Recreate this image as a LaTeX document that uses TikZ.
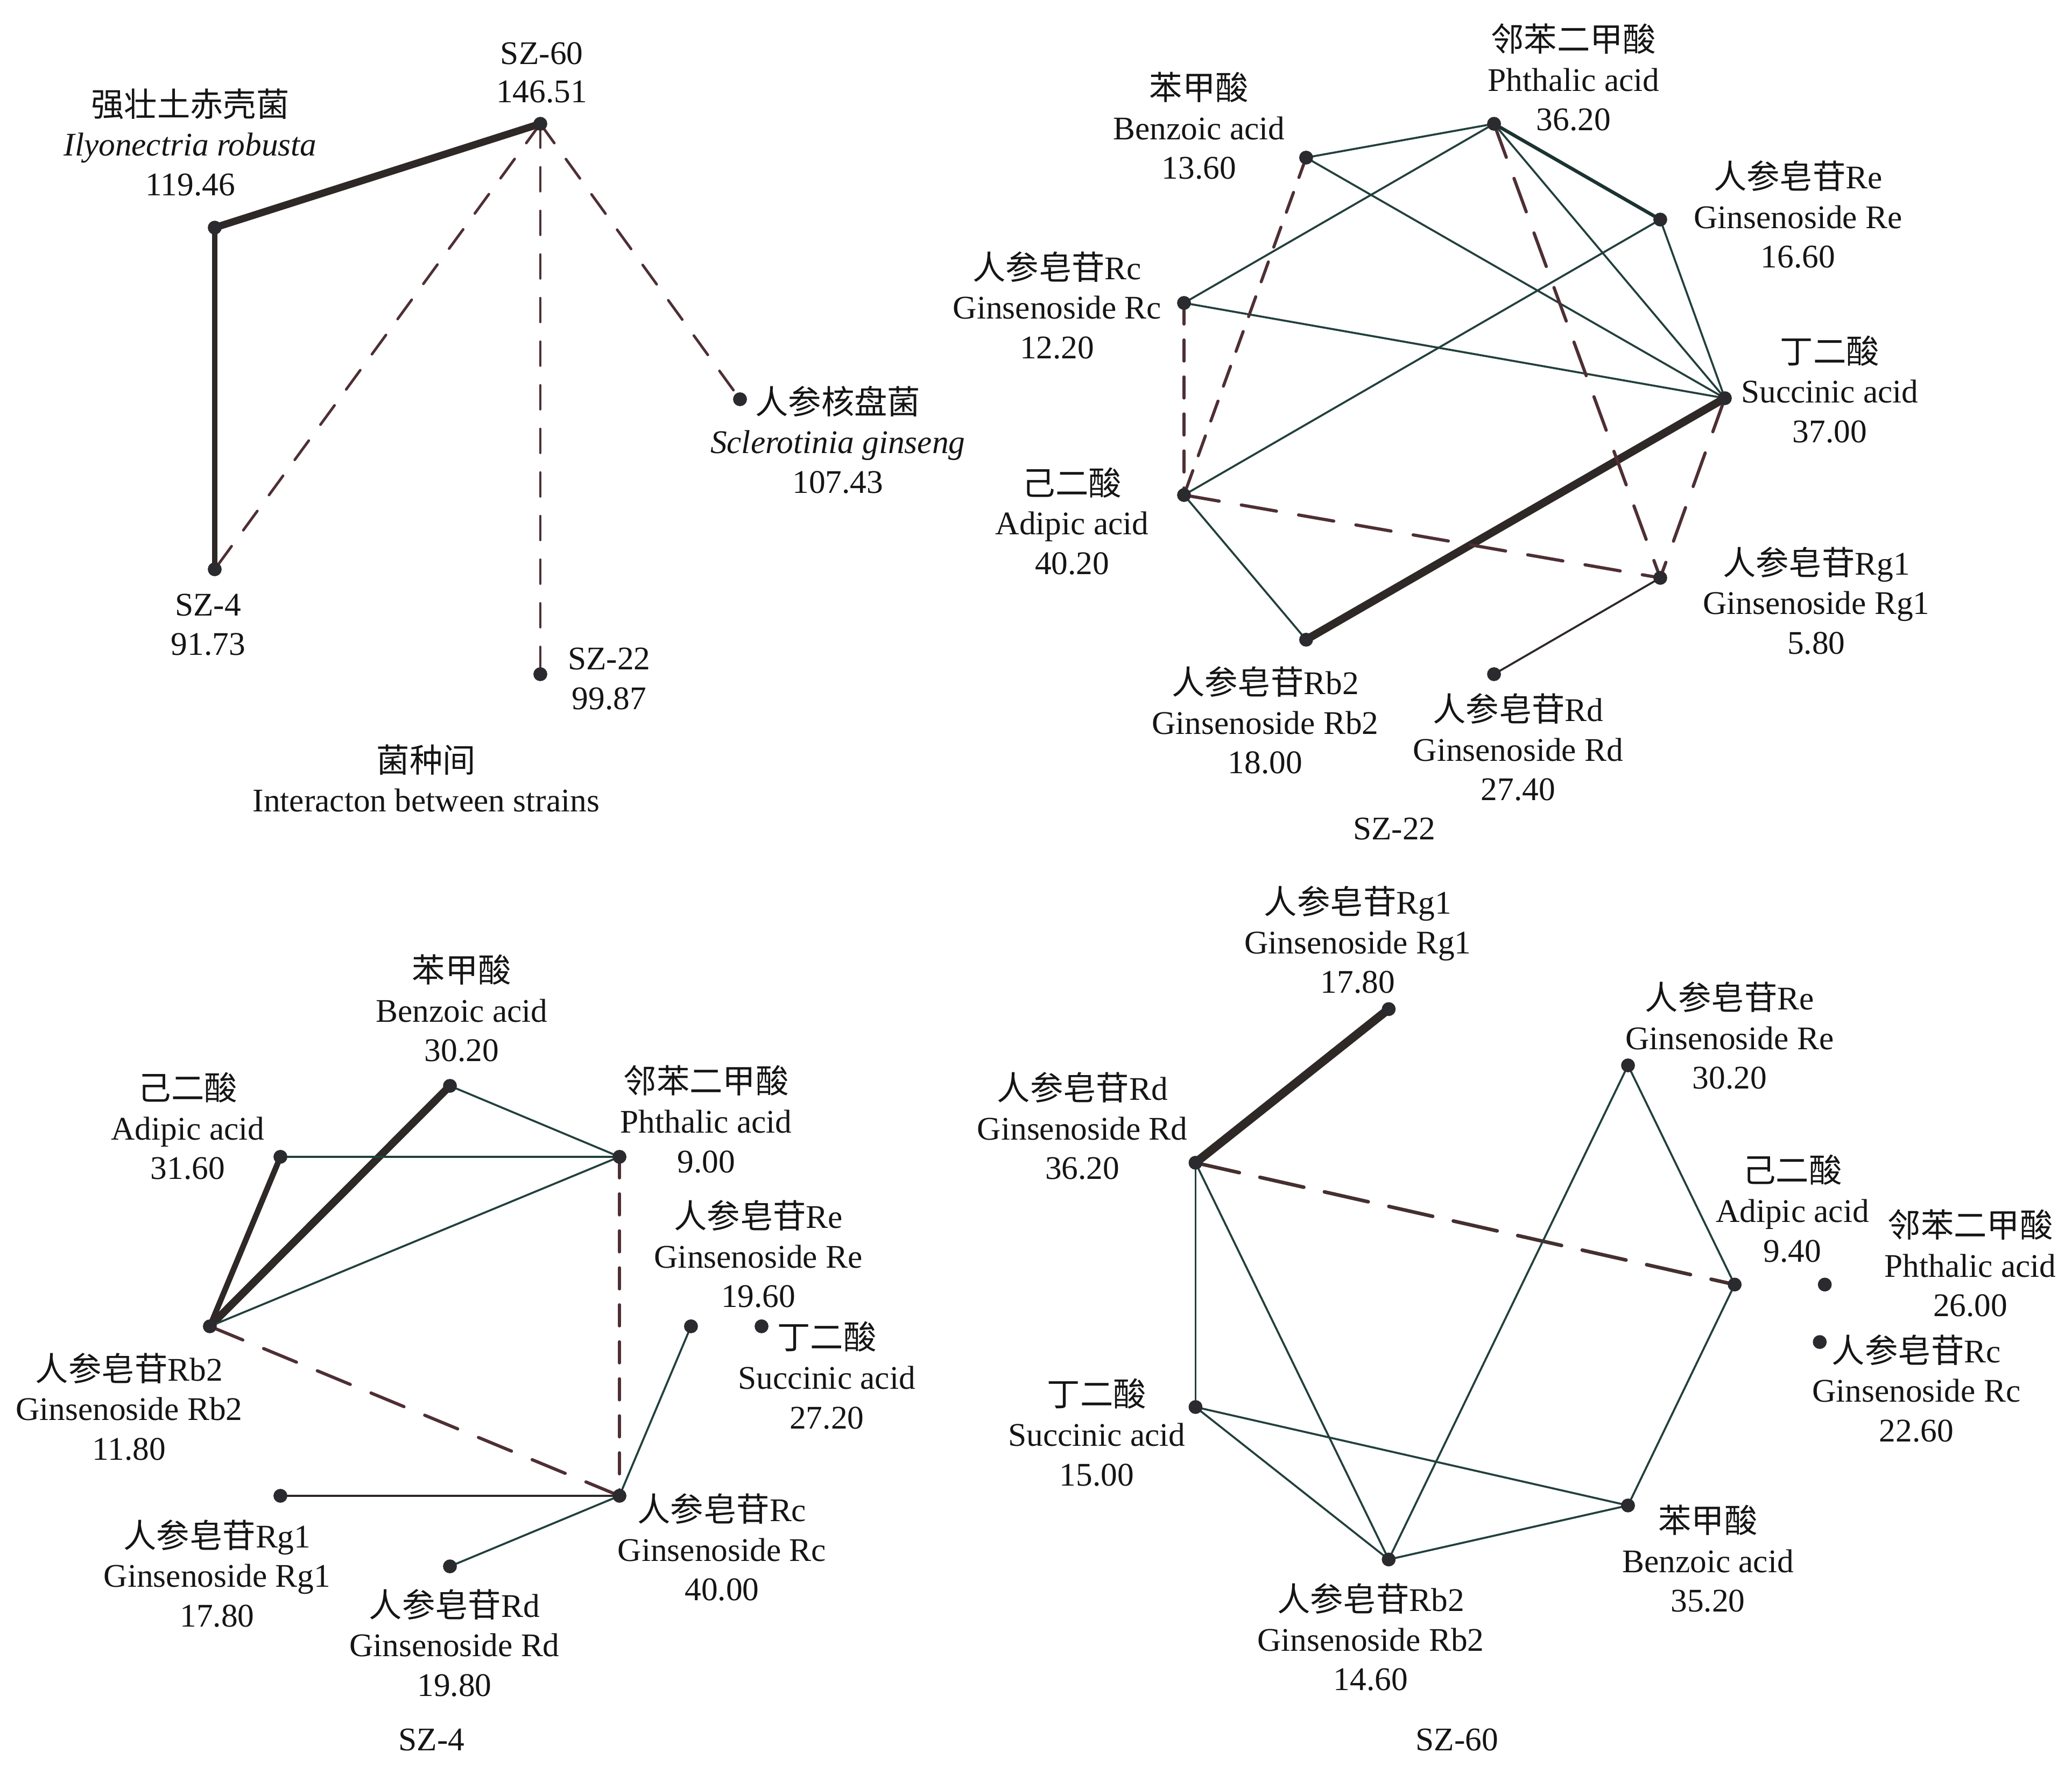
\documentclass[tikz,border=0pt]{standalone}
\usepackage{fontspec}
\setmainfont{Liberation Serif}
\newfontfamily\cjk{Noto Sans CJK SC}
\newcommand{\zh}[1]{{\cjk #1}}
\definecolor{tealc}{HTML}{22403D}
\definecolor{darkc}{HTML}{2E2826}
\definecolor{maroonc}{HTML}{4E2F34}
\definecolor{brownc}{HTML}{45302F}
\definecolor{dotc}{HTML}{2B2A2E}
\definecolor{txtc}{HTML}{151515}
\pgfdeclarelayer{bgl}
\pgfdeclarelayer{edges}
\pgfsetlayers{bgl,edges,main}
\newcommand{\oneline}[4]{\node[lbl] (#1) at (#2,#3+9) {#4};}
\newcommand{\labthree}[6]{%
  \node[lbl] (#1a) at (#2,#3+9) {#4};
  \node[lbl] (#1b) at (#2,#3+39) {#5};
  \node[lbl] (#1c) at (#2,#3+69) {#6};}
\begin{document}
\begin{tikzpicture}[x=1pt,y=-1pt,
  lbl/.style={anchor=base,inner sep=0pt,text=txtc,font=\fontsize{25}{30}\selectfont},
  dotn/.style={circle,fill=dotc,inner sep=0pt,minimum size=10.5pt},
  tline/.style={draw=tealc,line width=1.5pt},
  mline/.style={draw=tealc!80!black,line width=2.6pt,line cap=round},
  bline/.style={draw=darkc,line width=5.5pt,line cap=round},
  dline/.style={draw=maroonc,line width=2pt,line cap=round,dash pattern=on 18pt off 15pt},
  dlines/.style={draw=maroonc,line width=2.3pt,line cap=round,dash pattern=on 16pt off 12pt},
  dlinem/.style={draw=maroonc,line width=2.4pt,line cap=round,dash pattern=on 27pt off 17pt},
  dlineb/.style={draw=brownc,line width=2.7pt,line cap=round,dash pattern=on 34pt off 16pt}]
\begin{pgfonlayer}{bgl}
\fill[white] (0,0) rectangle (1568,1348);
\end{pgfonlayer}
\useasboundingbox (0,0) rectangle (1568,1348);

% ---------------- Panel 1: strains ----------------
\node[dotn] (s60) at (408.9,93.7) {};
\node[dotn] (ilyo) at (162.5,172.3) {};
\node[dotn] (s4) at (162.5,430.9) {};
\node[dotn] (s22) at (408.9,510.3) {};
\node[dotn] (scl) at (560,302.2) {};
\oneline{t60a}{410}{39.5}{SZ-60}
\oneline{t60b}{410}{68.6}{146.51}
\labthree{tily}{144}{79}{\zh{强壮土赤壳菌}}{\textit{Ilyonectria robusta}}{119.46}
\oneline{t4a}{157.5}{457.1}{SZ-4}
\oneline{t4b}{157.5}{487}{91.73}
\oneline{t22a}{461}{497.8}{SZ-22}
\oneline{t22b}{461}{527.8}{99.87}
\labthree{tscl}{634}{304.2}{\zh{人参核盘菌}}{\textit{Sclerotinia ginseng}}{107.43}
\oneline{tti1}{322.5}{575.6}{\zh{菌种间}}
\oneline{tti2}{322.5}{605.5}{Interacton between strains}
\begin{pgfonlayer}{edges}
\draw[bline] (s60.center) -- (ilyo.center);
\draw[bline,line width=4.3pt] (ilyo.center) -- (s4.center);
\draw[dline] (s60.center) -- (s4.center);
\draw[dline] (s60.center) -- (s22.center);
\draw[dline] (s60.center) -- (scl.center);
\end{pgfonlayer}

% ---------------- Panel 2: SZ-22 ----------------
\node[dotn] (bPh) at (1130.6,93.7) {};
\node[dotn] (bBz) at (988.4,119.3) {};
\node[dotn] (bRe) at (1256.4,166.2) {};
\node[dotn] (bRc) at (896,229.3) {};
\node[dotn] (bSu) at (1305.3,301.4) {};
\node[dotn] (bAd) at (896,374.7) {};
\node[dotn] (bRg) at (1256.4,437.4) {};
\node[dotn] (bRb) at (988.4,484.2) {};
\node[dotn] (bRd) at (1130.6,510.3) {};
\labthree{lbBz}{907.4}{66.5}{\zh{苯甲酸}}{Benzoic acid}{13.60}
\labthree{lbPh}{1190.8}{29.9}{\zh{邻苯二甲酸}}{Phthalic acid}{36.20}
\labthree{lbRe}{1360.7}{133.8}{\zh{人参皂苷}Re}{Ginsenoside Re}{16.60}
\labthree{lbRc}{800}{202.4}{\zh{人参皂苷}Rc}{Ginsenoside Rc}{12.20}
\labthree{lbSu}{1384.7}{266}{\zh{丁二酸}}{Succinic acid}{37.00}
\labthree{lbAd}{811.3}{365.7}{\zh{己二酸}}{Adipic acid}{40.20}
\labthree{lbRg}{1374.5}{426}{\zh{人参皂苷}Rg1}{Ginsenoside Rg1}{5.80}
\labthree{lbRb}{957.5}{516.6}{\zh{人参皂苷}Rb2}{Ginsenoside Rb2}{18.00}
\labthree{lbRd}{1148.9}{536.9}{\zh{人参皂苷}Rd}{Ginsenoside Rd}{27.40}
\oneline{lbT}{1055.2}{626.7}{SZ-22}
\begin{pgfonlayer}{edges}
\draw[tline] (bBz.center) -- (bPh.center);
\draw[tline] (bBz.center) -- (bSu.center);
\draw[tline] (bPh.center) -- (bRc.center);
\draw[tline] (bPh.center) -- (bSu.center);
\draw[tline] (bRe.center) -- (bSu.center);
\draw[tline] (bRe.center) -- (bAd.center);
\draw[tline] (bRc.center) -- (bSu.center);
\draw[tline] (bAd.center) -- (bRb.center);
\draw[tline,draw=darkc] (bRg.center) -- (bRd.center);
\draw[mline] (bPh.center) -- (bRe.center);
\draw[bline,line width=6pt] (bRb.center) -- (bSu.center);
\draw[dlines] (bBz.center) -- (bAd.center);
\draw[dlines] (bRc.center) -- (bAd.center);
\draw[dlinem] (bPh.center) -- (bRg.center);
\draw[dlinem] (bSu.center) -- (bRg.center);
\draw[dlinem] (bAd.center) -- (bRg.center);
\end{pgfonlayer}

% ---------------- Panel 3: SZ-4 ----------------
\node[dotn] (cBz) at (340.5,821.9) {};
\node[dotn] (cAd) at (212.2,875.6) {};
\node[dotn] (cPh) at (468.8,875.6) {};
\node[dotn] (cRb) at (158.8,1003.9) {};
\node[dotn] (cRe) at (522.9,1003.9) {};
\node[dotn] (cSu) at (576.3,1003.9) {};
\node[dotn] (cRc) at (468.8,1132.2) {};
\node[dotn] (cRg) at (212.2,1132.2) {};
\node[dotn] (cRd) at (340.5,1185.6) {};
\labthree{lcBz}{349.4}{734.5}{\zh{苯甲酸}}{Benzoic acid}{30.20}
\labthree{lcAd}{142.1}{823.7}{\zh{己二酸}}{Adipic acid}{31.60}
\labthree{lcPh}{534.4}{818.5}{\zh{邻苯二甲酸}}{Phthalic acid}{9.00}
\labthree{lcRe}{573.9}{920.6}{\zh{人参皂苷}Re}{Ginsenoside Re}{19.60}
\labthree{lcSu}{625.7}{1012.4}{\zh{丁二酸}}{Succinic acid}{27.20}
\labthree{lcRb}{97.7}{1036.1}{\zh{人参皂苷}Rb2}{Ginsenoside Rb2}{11.80}
\labthree{lcRg}{164.3}{1162.4}{\zh{人参皂苷}Rg1}{Ginsenoside Rg1}{17.80}
\labthree{lcRd}{343.9}{1214.9}{\zh{人参皂苷}Rd}{Ginsenoside Rd}{19.80}
\labthree{lcRc}{546.3}{1142.5}{\zh{人参皂苷}Rc}{Ginsenoside Rc}{40.00}
\oneline{lcT}{326.7}{1316.2}{SZ-4}
\begin{pgfonlayer}{edges}
\draw[bline,line width=5.8pt] (cBz.center) -- (cRb.center);
\draw[bline,line width=4.3pt] (cAd.center) -- (cRb.center);
\draw[tline] (cBz.center) -- (cPh.center);
\draw[tline] (cAd.center) -- (cPh.center);
\draw[tline] (cRb.center) -- (cPh.center);
\draw[tline] (cRe.center) -- (cRc.center);
\draw[tline,draw=darkc] (cRg.center) -- (cRc.center);
\draw[tline] (cRd.center) -- (cRc.center);
\draw[dlinem] (cRb.center) -- (cRc.center);
\draw[dlines] (cPh.center) -- (cRc.center);
\end{pgfonlayer}

% ---------------- Panel 4: SZ-60 ----------------
\node[dotn] (dRg) at (1050.9,763.8) {};
\node[dotn] (dRe) at (1232,806.4) {};
\node[dotn] (dRd) at (904.7,880.1) {};
\node[dotn] (dAd) at (1312.7,972.3) {};
\node[dotn] (dPh) at (1380.9,972.3) {};
\node[dotn] (dRc) at (1377.1,1015.8) {};
\node[dotn] (dSu) at (904.7,1065) {};
\node[dotn] (dBz) at (1232,1139.5) {};
\node[dotn] (dRb) at (1050.9,1180.4) {};
\labthree{ldRg}{1027.5}{682.8}{\zh{人参皂苷}Rg1}{Ginsenoside Rg1}{17.80}
\labthree{ldRe}{1308.9}{755.2}{\zh{人参皂苷}Re}{Ginsenoside Re}{30.20}
\labthree{ldRd}{819.1}{823.7}{\zh{人参皂苷}Rd}{Ginsenoside Rd}{36.20}
\labthree{ldAd}{1356.4}{886.1}{\zh{己二酸}}{Adipic acid}{9.40}
\labthree{ldPh}{1491.1}{927.5}{\zh{邻苯二甲酸}}{Phthalic acid}{26.00}
\labthree{ldRc}{1450.2}{1022.3}{\zh{人参皂苷}Rc}{Ginsenoside Rc}{22.60}
\labthree{ldSu}{830}{1055.5}{\zh{丁二酸}}{Succinic acid}{15.00}
\labthree{ldBz}{1292.5}{1151.1}{\zh{苯甲酸}}{Benzoic acid}{35.20}
\labthree{ldRb}{1037.3}{1210.6}{\zh{人参皂苷}Rb2}{Ginsenoside Rb2}{14.60}
\oneline{ldT}{1102.7}{1316.2}{SZ-60}
\begin{pgfonlayer}{edges}
\draw[bline,line width=6.5pt] (dRg.center) -- (dRd.center);
\draw[dlineb] (dRd.center) -- (dAd.center);
\draw[tline] (dRd.center) -- (dSu.center);
\draw[tline] (dRd.center) -- (dRb.center);
\draw[tline] (dRe.center) -- (dRb.center);
\draw[tline] (dRe.center) -- (dAd.center);
\draw[tline] (dAd.center) -- (dBz.center);
\draw[tline] (dSu.center) -- (dBz.center);
\draw[tline] (dSu.center) -- (dRb.center);
\draw[tline] (dRb.center) -- (dBz.center);
\end{pgfonlayer}
\end{tikzpicture}
\end{document}
